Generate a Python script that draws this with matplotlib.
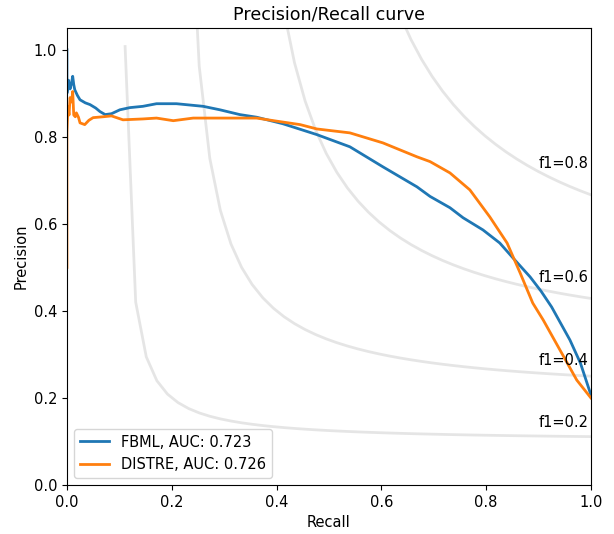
import matplotlib
matplotlib.use('Agg')
import matplotlib.pyplot as plt
import numpy as np

# FBML precision/recall points
fbml_recall = [0.0, 0.0, 0.003, 0.006, 0.009, 0.011, 0.013, 0.015, 0.02, 0.025, 0.035, 0.044,
               0.055, 0.063, 0.073, 0.085, 0.101, 0.12, 0.145, 0.171, 0.209, 0.26, 0.292,
               0.33, 0.362, 0.412, 0.477, 0.54, 0.603, 0.668, 0.693, 0.731, 0.756, 0.794,
               0.826, 0.851, 0.884, 0.905, 0.925, 0.96, 0.98, 1.0]
fbml_precision = [1.0, 0.90, 0.93, 0.91, 0.925, 0.939, 0.92, 0.908, 0.895, 0.885, 0.878, 0.874,
                  0.866, 0.858, 0.851, 0.853, 0.862, 0.867, 0.870, 0.876, 0.876, 0.870, 0.862,
                  0.851, 0.845, 0.830, 0.805, 0.777, 0.731, 0.685, 0.663, 0.637, 0.614, 0.586,
                  0.556, 0.522, 0.478, 0.445, 0.409, 0.333, 0.28, 0.207]

# DISTRE precision/recall points
distre_recall = [0.0, 0.0, 0.002, 0.004, 0.006, 0.009, 0.011, 0.013, 0.016, 0.018, 0.022, 0.025,
                 0.034, 0.042, 0.05, 0.069, 0.085, 0.107, 0.145, 0.171, 0.203, 0.241, 0.305,
                 0.362, 0.40, 0.445, 0.477, 0.54, 0.603, 0.668, 0.693, 0.731, 0.769, 0.807,
                 0.84, 0.865, 0.889, 0.909, 0.941, 0.973, 1.0]
distre_precision = [0.50, 0.81, 0.87, 0.85, 0.89, 0.88, 0.904, 0.85, 0.846, 0.855, 0.845, 0.832,
                    0.828, 0.838, 0.844, 0.846, 0.848, 0.839, 0.841, 0.843, 0.837, 0.843, 0.843,
                    0.843, 0.836, 0.828, 0.818, 0.809, 0.786, 0.754, 0.743, 0.717, 0.678, 0.616,
                    0.556, 0.487, 0.418, 0.379, 0.310, 0.241, 0.200]

labels = ['FBML, AUC: 0.723', 'DISTRE, AUC: 0.726']
f_scores = [0.2, 0.4, 0.6, 0.8]

fs = 10.5
fig = plt.figure(figsize=(6.14, 5.34), dpi=100)
ax = fig.add_axes([0.109, 0.0918, 0.8534, 0.8558])

# iso-f1 curves
for f_score in f_scores:
    x = np.linspace(0.01, 1)
    y = f_score * x / (2 * x - f_score)
    ax.plot(x[y >= 0], y[y >= 0], color='gray', alpha=0.2, lw=2)
    ax.annotate('f1={0:0.1f}'.format(f_score), xy=(0.9, y[45] + 0.02), fontsize=fs)

ax.plot(fbml_recall, fbml_precision, color='#1f77b4', lw=2, label=labels[0])
ax.plot(distre_recall, distre_precision, color='#ff7f0e', lw=2, label=labels[1])

ax.set_xlim(0.0, 1.0)
ax.set_ylim(0.0, 1.05)
ax.set_xlabel('Recall', fontsize=fs)
ax.set_ylabel('Precision', fontsize=fs)
ax.set_title('Precision/Recall curve', fontsize=12.6)
ax.tick_params(labelsize=fs)
ax.legend(loc='lower left', fontsize=fs)

fig.savefig('out.png')
